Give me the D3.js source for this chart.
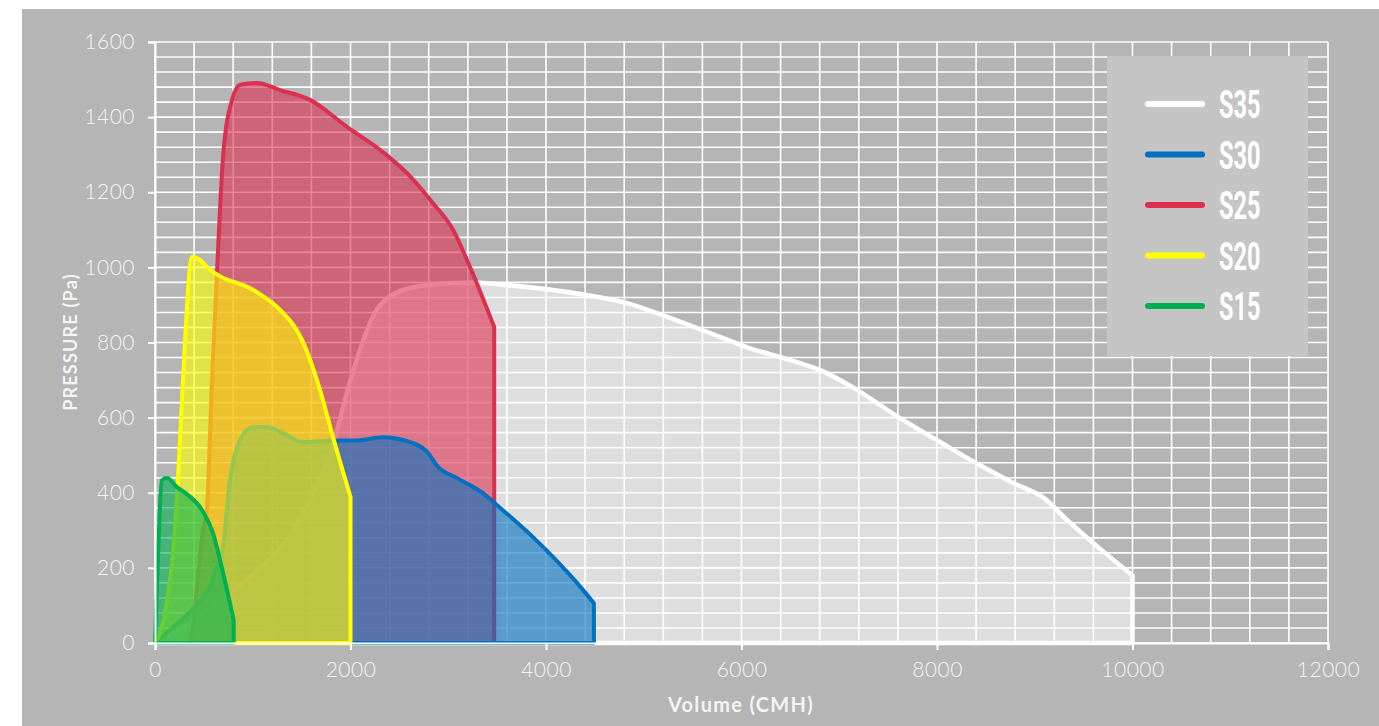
<!DOCTYPE html>
<html>
<head>
<meta charset="utf-8">
<script src="https://cdn.jsdelivr.net/npm/d3@7"></script>
<style>
  html, body { margin: 0; padding: 0; background: #ffffff; }
  svg { display: block; }
</style>
</head>
<body>
<svg id="chart" width="1379" height="726"></svg>
<script>
// ---- data (Volume CMH, Pressure Pa) ----
const xTicks = [0, 2000, 4000, 6000, 8000, 10000, 12000];
const yTicks = [0, 200, 400, 600, 800, 1000, 1200, 1400, 1600];

const s35 = [[0,0],[400,60],[750,130],[1100,205],[1350,275],[1600,390],[1800,510],[2000,700],[2230,870],[2450,930],[2750,952],[3250,960],[3600,953],[4400,927],[4830,905],[5240,868],[5650,828],[6050,788],[6600,745],[6800,727],[7180,674],[7600,602],[8000,540],[8400,479],[8780,426],[9120,381],[9300,335],[9600,266],[10000,180]];
const s25 = [[0,0],[355,0],[390,43],[430,149],[490,301],[532,362],[583,700],[634,985],[696,1294],[788,1446],[870,1486],[1043,1491],[1279,1472],[1586,1446],[1964,1374],[2302,1313],[2578,1251],[2844,1171],[3049,1100],[3223,1001],[3470,841]];
const s30 = [[0,0],[200,45],[400,95],[560,150],[634,202],[696,256],[767,434],[870,540],[1003,575],[1146,575],[1309,559],[1514,535],[1760,538],[2097,540],[2332,548],[2609,535],[2783,509],[2895,469],[3090,439],[3355,399],[3499,367],[3867,282],[4317,160],[4490,106]];
const s20 = [[0,0],[20,8],[102,80],[153,168],[184,240],[235,434],[286,700],[379,1028],[460,1020],[532,1001],[1043,934],[1279,887],[1504,807],[1657,700],[1688,674],[1821,548],[2000,389]];
const s15 = [[0,0],[20,150],[72,434],[123,439],[225,415],[338,394],[481,354],[593,293],[665,221],[805,61]];

const seriesNames = ["S35", "S30", "S25", "S20", "S15"];
const seriesColors = ["#ffffff", "#0070c0", "#dc3050", "#ffff00", "#00b050"];
// drawing order (bottom to top)
const drawOrder = [
  { data: s35, color: "#ffffff" },
  { data: s25, color: "#dc3050" },
  { data: s30, color: "#0070c0" },
  { data: s20, color: "#ffff00" },
  { data: s15, color: "#00b050" }
];

// ---- layout ----
const svg = d3.select("#chart");
const x = d3.scaleLinear().domain([0, 12000]).range([155, 1328]);
const y = d3.scaleLinear().domain([0, 1600]).range([643, 42]);

svg.append("rect").attr("x", 22).attr("y", 9).attr("width", 1379 - 22).attr("height", 726 - 9).attr("fill", "#b5b5b5");

// grid
const grid = svg.append("g");
grid.selectAll("line.v").data(d3.range(0, 12001, 400)).join("line")
  .attr("x1", d => x(d)).attr("x2", d => x(d)).attr("y1", y(0)).attr("y2", y(1600))
  .attr("stroke", "#ffffff").attr("stroke-width", 1.6);
grid.selectAll("line.h").data(d3.range(0, 1601, 40)).join("line")
  .attr("x1", x(0)).attr("x2", x(12000)).attr("y1", d => y(d)).attr("y2", d => y(d))
  .attr("stroke", "#ffffff").attr("stroke-width", 1.6);

// areas
const area = d3.area().x(d => x(d[0])).y0(y(0)).y1(d => y(d[1])).curve(d3.curveMonotoneX);
drawOrder.forEach(s => {
  svg.append("path").attr("d", area(s.data))
    .attr("fill", s.color).attr("fill-opacity", s.color === "#ffffff" ? 0.55 : 0.6)
    .attr("stroke", s.color).attr("stroke-width", s.color === "#ffffff" ? 4.5 : 4)
    .attr("stroke-linejoin", "round");
});

// axes
const fontTick = "Lato, 'DejaVu Sans', sans-serif";
const yAxis = svg.append("g").attr("transform", `translate(${x(0)},0)`)
  .call(d3.axisLeft(y).tickValues(yTicks).tickSize(7).tickPadding(13).tickFormat(d3.format("d")));
const xAxis = svg.append("g").attr("transform", `translate(0,${y(0)})`)
  .call(d3.axisBottom(x).tickValues(xTicks).tickSize(7).tickPadding(12).tickFormat(d3.format("d")));
[xAxis, yAxis].forEach(a => {
  a.select(".domain").attr("stroke", "#ffffff").attr("stroke-width", 2);
  a.selectAll(".tick line").attr("stroke", "#ffffff").attr("stroke-width", 2);
  a.selectAll(".tick text").attr("fill", "#f4f4f4").attr("font-family", fontTick)
    .attr("font-weight", 300).attr("font-size", 21).attr("letter-spacing", 0.5);
});

// axis titles
svg.append("text").attr("x", 741).attr("y", 712).attr("text-anchor", "middle")
  .attr("font-family", fontTick).attr("font-weight", "bold").attr("font-size", 20)
  .attr("letter-spacing", 1.3).attr("fill", "#f4f4f4").text("Volume (CMH)");
svg.append("text").attr("transform", "translate(77,342) rotate(-90)").attr("text-anchor", "middle")
  .attr("font-family", fontTick).attr("font-weight", "bold").attr("font-size", 18)
  .attr("letter-spacing", 1.2).attr("fill", "#f4f4f4").text("PRESSURE (Pa)");

// legend
svg.append("rect").attr("x", 1107).attr("y", 56).attr("width", 201).attr("height", 300).attr("fill", "#c5c5c5");
const leg = svg.append("g");
seriesNames.forEach((name, i) => {
  const ly = 104 + i * 50.5;
  leg.append("line").attr("x1", 1148).attr("x2", 1202).attr("y1", ly).attr("y2", ly)
    .attr("stroke", seriesColors[i]).attr("stroke-width", 6).attr("stroke-linecap", "round");
  leg.append("text").attr("transform", `translate(1219,${ly + 14}) scale(0.62,1)`)
    .attr("font-family", "Roboto, 'DejaVu Sans', sans-serif").attr("font-weight", "bold")
    .attr("font-size", 38).attr("fill", "#ffffff").text(name);
});
</script>
</body>
</html>
